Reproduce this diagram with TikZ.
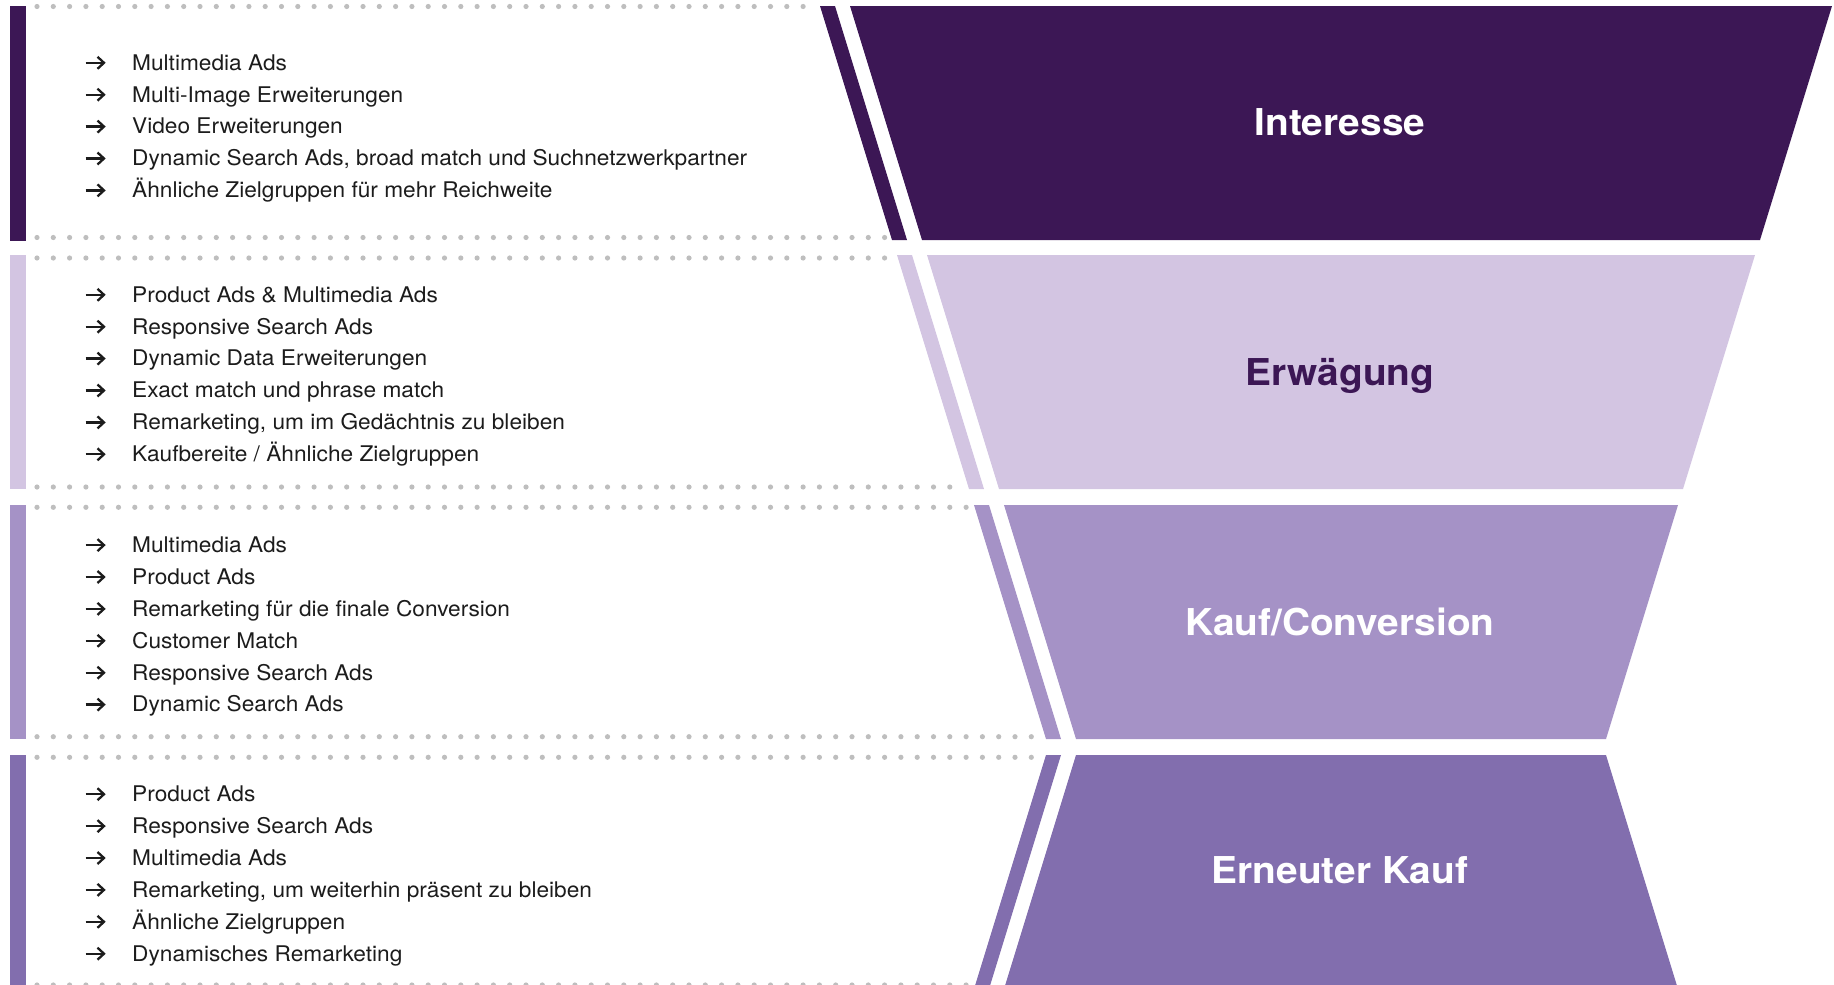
\documentclass[tikz,border=0pt]{standalone}
\usepackage{fontspec}
\setmainfont[FakeStretch=1.05]{TeX Gyre Heros}
\definecolor{cInt}{HTML}{3C1755}
\definecolor{cErw}{HTML}{D3C5E2}
\definecolor{cKauf}{HTML}{A592C6}
\definecolor{cNeu}{HTML}{826EAE}
\definecolor{cDot}{HTML}{BEBEBE}
\definecolor{cTxt}{HTML}{1C1C1C}
\tikzset{
  itemtext/.style={anchor=base west, inner sep=0pt, font=\fontsize{21.6}{24}\selectfont, text=cTxt},
  stagetitle/.style={anchor=base, inner sep=0pt, font=\fontsize{37}{40}\selectfont\bfseries},
  itemarrow/.pic={
    \draw[cTxt, line width=2.3pt] (-9.5,0) -- (8.5,0);
    \draw[cTxt, line width=2.3pt, line join=miter] (2.5,-6) -- (9,0) -- (2.5,6);
  },
  dotmark/.style={fill=cDot}
}
\begin{document}
\begin{tikzpicture}[x=1pt,y=-1pt]
\useasboundingbox (0,0) rectangle (1834,985);
\clip (0,0) rectangle (1834,985);

% left bars
\fill[cInt]  (10,6)   rectangle (26,241);
\fill[cErw]  (10,255) rectangle (26,489);
\fill[cKauf] (10,505) rectangle (26,739);
\fill[cNeu]  (10,755) rectangle (26,989);

% funnel shapes
\fill[cInt]  (850,6) -- (1832,6) -- (1760,240) -- (922,240) -- cycle;
\fill[cInt]  (820,6) -- (835,6) -- (907,240) -- (892,240) -- cycle;
\fill[cErw]  (927,255) -- (1755,255) -- (1683,489) -- (999,489) -- cycle;
\fill[cErw]  (897,255) -- (912,255) -- (984,489) -- (969,489) -- cycle;
\fill[cKauf] (1004,505) -- (1678,505) -- (1606,739) -- (1076,739) -- cycle;
\fill[cKauf] (974,505) -- (989,505) -- (1061,739) -- (1046,739) -- cycle;
\fill[cNeu]  (1076,755) -- (1606,755) -- (1678,989) -- (1004,989) -- cycle;
\fill[cNeu]  (1046,755) -- (1061,755) -- (989,989) -- (974,989) -- cycle;

% dotted separators
\foreach \yy/\lim in {6.5/816, 237.5/887, 258/894, 487/964, 507.3/970, 736.7/1041, 757.3/1041, 985/972}{
  \foreach \xx in {37,53.3,...,\lim}
    \fill[dotmark] (\xx,\yy) circle[radius=2.6];
}

% titles
\node[stagetitle, text=white] (tInt)  at (1340,135)   {Interesse};
\node[stagetitle, text=cInt]  (tErw)  at (1340,385)   {Erwägung};
\node[stagetitle, text=white] (tKauf) at (1340,635)   {Kauf/Conversion};
\node[stagetitle, text=white] (tNeu)  at (1340,883.5) {Erneuter Kauf};

% items
\foreach \t [count=\i] in {Multimedia Ads, Multi-Image Erweiterungen, Video Erweiterungen, {Dynamic Search Ads, broad match und Suchnetzwerkpartner}, Ähnliche Zielgruppen für mehr Reichweite}{
  \pgfmathsetmacro\yc{62.8+(\i-1)*31.9}
  \pic at (95,\yc) {itemarrow};
  \node[itemtext] (int-\i) at (132,\yc+7.3) {\t};
}
\foreach \t [count=\i] in {Product Ads \& Multimedia Ads, Responsive Search Ads, Dynamic Data Erweiterungen, Exact match und phrase match, {Remarketing, um im Gedächtnis zu bleiben}, Kaufbereite / Ähnliche Zielgruppen}{
  \pgfmathsetmacro\yc{294.8+(\i-1)*31.9}
  \pic at (95,\yc) {itemarrow};
  \node[itemtext] (erw-\i) at (132,\yc+7.3) {\t};
}
\foreach \t [count=\i] in {Multimedia Ads, Product Ads, Remarketing für die finale Conversion, Customer Match, Responsive Search Ads, Dynamic Search Ads}{
  \pgfmathsetmacro\yc{545.1+(\i-1)*31.9}
  \pic at (95,\yc) {itemarrow};
  \node[itemtext] (kauf-\i) at (132,\yc+7.3) {\t};
}
\foreach \t [count=\i] in {Product Ads, Responsive Search Ads, Multimedia Ads, {Remarketing, um weiterhin präsent zu bleiben}, Ähnliche Zielgruppen, Dynamisches Remarketing}{
  \pgfmathsetmacro\yc{794.2+(\i-1)*31.9}
  \pic at (95,\yc) {itemarrow};
  \node[itemtext] (neu-\i) at (132,\yc+7.3) {\t};
}
\end{tikzpicture}
\end{document}
